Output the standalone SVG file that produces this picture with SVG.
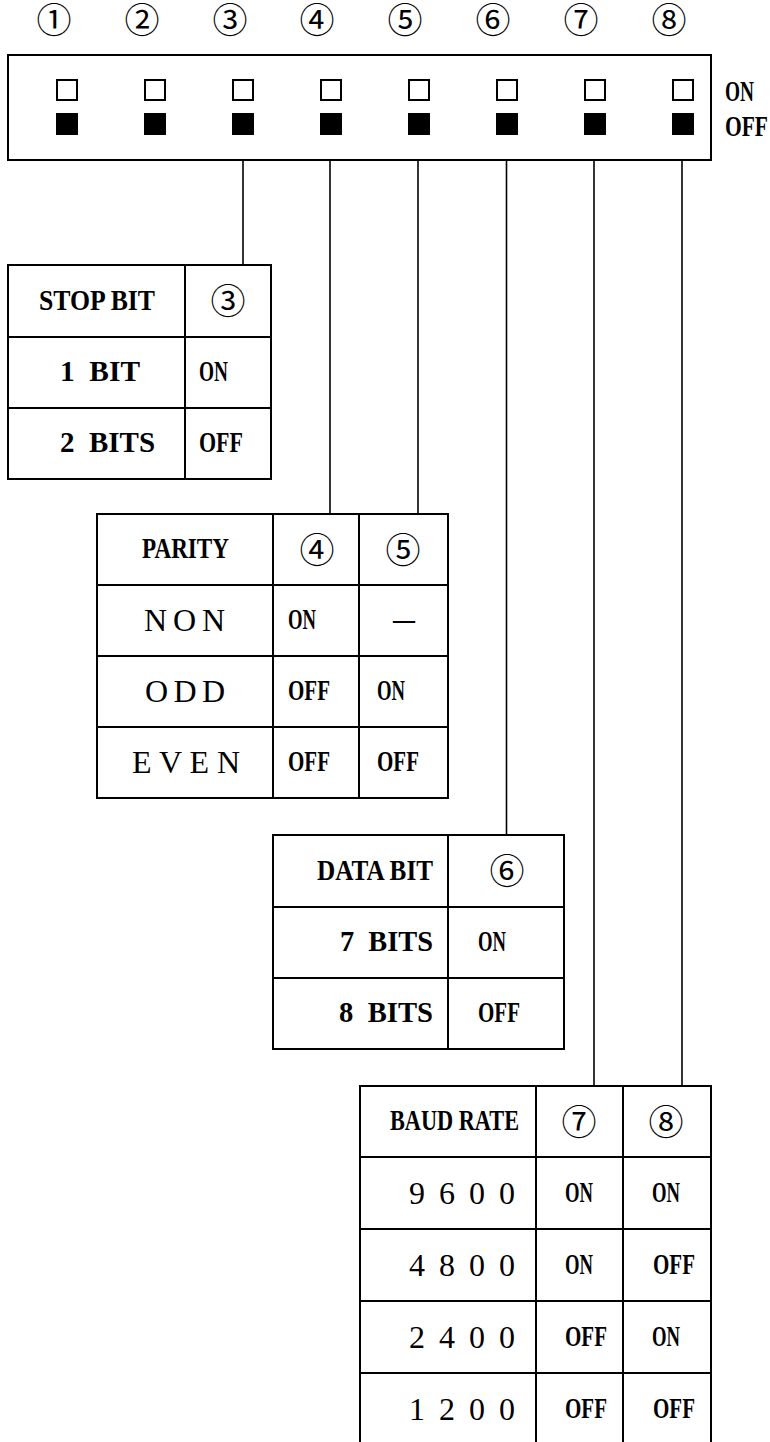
<svg xmlns="http://www.w3.org/2000/svg" width="770" height="1442" viewBox="0 0 770 1442">
<style>
.ln{fill:none;stroke:#000;stroke-width:2}
.cn{fill:none;stroke:#000;stroke-width:1.6}
.on{fill:#fff;stroke:#000;stroke-width:2}
.off{fill:#000}
.c{font-family:"Noto Sans CJK JP","DejaVu Sans",sans-serif;font-size:35px;text-anchor:middle;fill:#000}
.t{font-family:"Liberation Serif","Times New Roman",serif;font-size:30px;font-weight:bold;fill:#000}
.w{font-family:"Liberation Serif","Times New Roman",serif;font-size:32px;fill:#000}
</style>
<rect width="770" height="1442" fill="#fff"/>
<g id="switch">
  <g id="switch-numbers">
    <text class="c" x="54" y="33">①</text>
    <text class="c" x="142" y="33">②</text>
    <text class="c" x="230" y="33">③</text>
    <text class="c" x="317" y="33">④</text>
    <text class="c" x="405" y="33">⑤</text>
    <text class="c" x="493" y="33">⑥</text>
    <text class="c" x="581" y="33">⑦</text>
    <text class="c" x="669" y="33">⑧</text>
  </g>
  <rect class="ln" x="8" y="55" width="703" height="105"/>
  <g id="switch-on">
    <rect class="on" x="57" y="80" width="20" height="20"/>
    <rect class="on" x="145" y="80" width="20" height="20"/>
    <rect class="on" x="233" y="80" width="20" height="20"/>
    <rect class="on" x="321" y="80" width="20" height="20"/>
    <rect class="on" x="409" y="80" width="20" height="20"/>
    <rect class="on" x="497" y="80" width="20" height="20"/>
    <rect class="on" x="585" y="80" width="20" height="20"/>
    <rect class="on" x="673" y="80" width="20" height="20"/>
  </g>
  <g id="switch-off">
    <rect class="off" x="56" y="113" width="22" height="22"/>
    <rect class="off" x="144" y="113" width="22" height="22"/>
    <rect class="off" x="232" y="113" width="22" height="22"/>
    <rect class="off" x="320" y="113" width="22" height="22"/>
    <rect class="off" x="408" y="113" width="22" height="22"/>
    <rect class="off" x="496" y="113" width="22" height="22"/>
    <rect class="off" x="584" y="113" width="22" height="22"/>
    <rect class="off" x="672" y="113" width="22" height="22"/>
  </g>
  <text class="t" x="725" y="101" textLength="29" lengthAdjust="spacingAndGlyphs">ON</text>
  <text class="t" x="725" y="136" textLength="43" lengthAdjust="spacingAndGlyphs">OFF</text>
</g>
<g id="connectors">
  <line class="cn" x1="243" y1="160" x2="243" y2="265"/>
  <line class="cn" x1="330" y1="160" x2="330" y2="514"/>
  <line class="cn" x1="418" y1="160" x2="418" y2="514"/>
  <line class="cn" x1="506.5" y1="160" x2="506.5" y2="835"/>
  <line class="cn" x1="594" y1="160" x2="594" y2="1086"/>
  <line class="cn" x1="682" y1="160" x2="682" y2="1086"/>
</g>
<g id="stop-bit">
  <rect class="ln" x="8" y="265" width="263" height="214"/>
  <path class="ln" d="M185 265V479M8 337H271M8 408H271"/>
  <text class="t" x="39" y="310" textLength="116" lengthAdjust="spacingAndGlyphs">STOP BIT</text>
  <text class="c" x="228" y="314">③</text>
  <text class="t" x="60" y="381" xml:space="preserve" textLength="80" lengthAdjust="spacingAndGlyphs">1  BIT</text>
  <text class="t" x="199" y="381" textLength="29" lengthAdjust="spacingAndGlyphs">ON</text>
  <text class="t" x="60" y="452" xml:space="preserve" textLength="95" lengthAdjust="spacingAndGlyphs">2  BITS</text>
  <text class="t" x="199" y="452" textLength="44" lengthAdjust="spacingAndGlyphs">OFF</text>
</g>
<g id="parity">
  <rect class="ln" x="97" y="514" width="351" height="284"/>
  <path class="ln" d="M273 514V798M359 514V798M97 585H448M97 656H448M97 727H448"/>
  <text class="t" x="142" y="558" textLength="87" lengthAdjust="spacingAndGlyphs">PARITY</text>
  <text class="c" x="317" y="563">④</text>
  <text class="c" x="403" y="563">⑤</text>
  <text class="w" x="144" y="631" textLength="81" lengthAdjust="spacing">N O N</text>
  <text class="t" x="288" y="629" textLength="28" lengthAdjust="spacingAndGlyphs">ON</text>
  <text class="t" x="393" y="629" textLength="22" lengthAdjust="spacingAndGlyphs">—</text>
  <text class="w" x="145" y="702" textLength="80" lengthAdjust="spacing">O D D</text>
  <text class="t" x="288" y="700" textLength="42" lengthAdjust="spacingAndGlyphs">OFF</text>
  <text class="t" x="377" y="700" textLength="28" lengthAdjust="spacingAndGlyphs">ON</text>
  <text class="w" x="132" y="773" textLength="108" lengthAdjust="spacing">E V E N</text>
  <text class="t" x="288" y="771" textLength="42" lengthAdjust="spacingAndGlyphs">OFF</text>
  <text class="t" x="377" y="771" textLength="42" lengthAdjust="spacingAndGlyphs">OFF</text>
</g>
<g id="data-bit">
  <rect class="ln" x="273" y="835" width="291" height="214"/>
  <path class="ln" d="M448 835V1049M273 907H564M273 978H564"/>
  <text class="t" x="317" y="880" textLength="116" lengthAdjust="spacingAndGlyphs">DATA BIT</text>
  <text class="c" x="507" y="884">⑥</text>
  <text class="t" x="340" y="951" xml:space="preserve" textLength="93" lengthAdjust="spacingAndGlyphs">7  BITS</text>
  <text class="t" x="478" y="951" textLength="28" lengthAdjust="spacingAndGlyphs">ON</text>
  <text class="t" x="339" y="1022" xml:space="preserve" textLength="94" lengthAdjust="spacingAndGlyphs">8  BITS</text>
  <text class="t" x="478" y="1022" textLength="42" lengthAdjust="spacingAndGlyphs">OFF</text>
</g>
<g id="baud-rate">
  <rect class="ln" x="360" y="1086" width="351" height="359"/>
  <path class="ln" d="M536 1086V1445M623 1086V1445M360 1157H711M360 1229H711M360 1301H711M360 1373H711"/>
  <text class="t" x="390" y="1130" textLength="129" lengthAdjust="spacingAndGlyphs">BAUD RATE</text>
  <text class="c" x="579" y="1135">⑦</text>
  <text class="c" x="666" y="1135">⑧</text>
  <text class="w" x="409" y="1204" textLength="106" lengthAdjust="spacing">9 6 0 0</text>
  <text class="t" x="565" y="1202" textLength="28" lengthAdjust="spacingAndGlyphs">ON</text>
  <text class="t" x="652" y="1202" textLength="28" lengthAdjust="spacingAndGlyphs">ON</text>
  <text class="w" x="409" y="1276" textLength="106" lengthAdjust="spacing">4 8 0 0</text>
  <text class="t" x="565" y="1274" textLength="28" lengthAdjust="spacingAndGlyphs">ON</text>
  <text class="t" x="653" y="1274" textLength="42" lengthAdjust="spacingAndGlyphs">OFF</text>
  <text class="w" x="409" y="1348" textLength="106" lengthAdjust="spacing">2 4 0 0</text>
  <text class="t" x="565" y="1346" textLength="42" lengthAdjust="spacingAndGlyphs">OFF</text>
  <text class="t" x="652" y="1346" textLength="28" lengthAdjust="spacingAndGlyphs">ON</text>
  <text class="w" x="409" y="1420" textLength="106" lengthAdjust="spacing">1 2 0 0</text>
  <text class="t" x="565" y="1418" textLength="42" lengthAdjust="spacingAndGlyphs">OFF</text>
  <text class="t" x="653" y="1418" textLength="42" lengthAdjust="spacingAndGlyphs">OFF</text>
</g>
</svg>
